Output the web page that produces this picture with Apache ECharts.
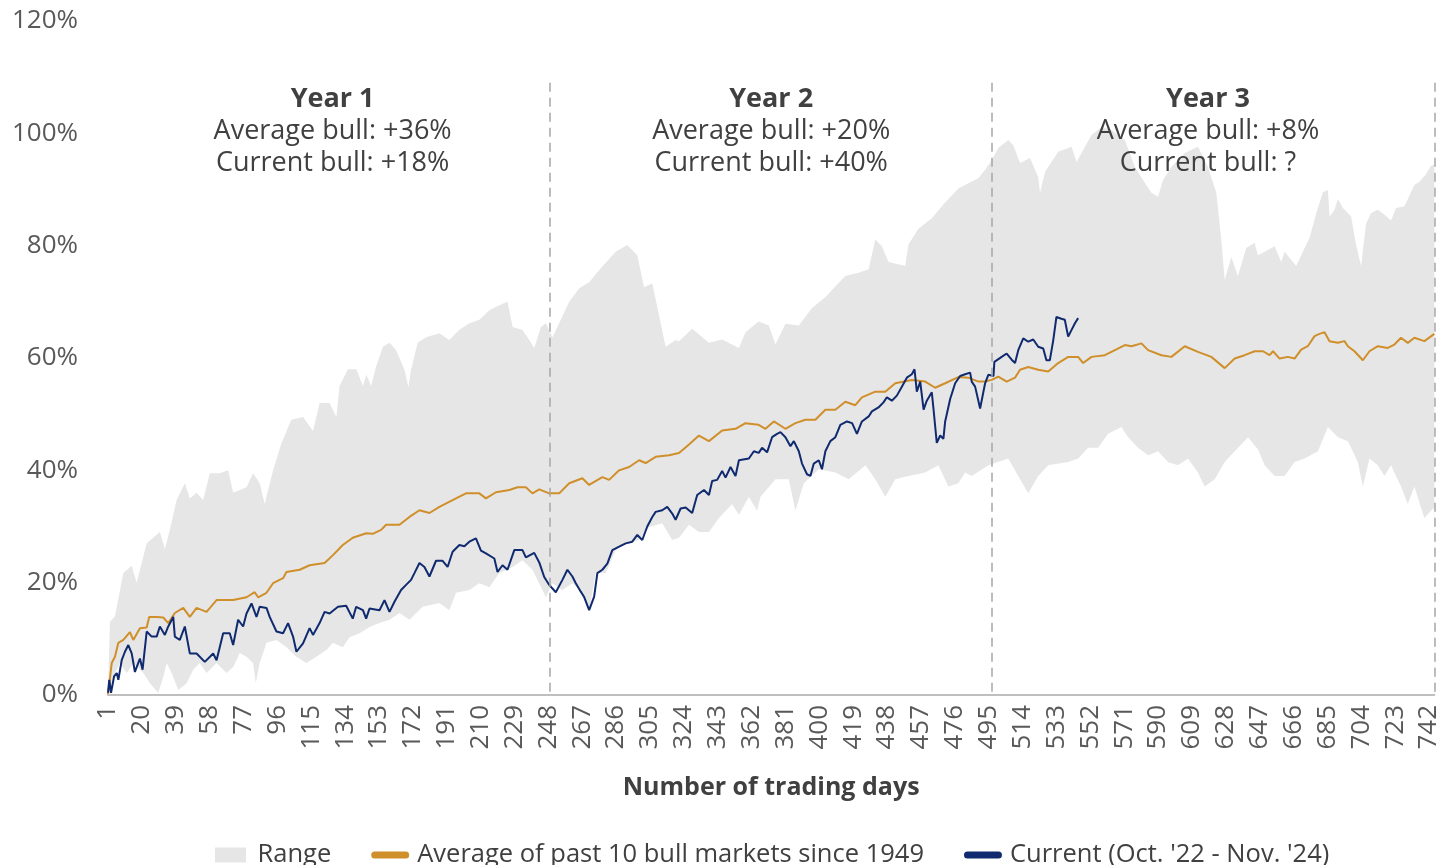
<!DOCTYPE html>
<html>
<head>
<meta charset="utf-8" />
<title>Bull market range</title>
<script src="https://cdn.jsdelivr.net/npm/echarts@6/dist/echarts.min.js"></script>
<style>
  html, body { margin: 0; padding: 0; background: #fff; }
  #chart { width: 1442px; height: 865px; }
</style>
</head>
<body>
<div id="chart"></div>
<script>
// [trading day, % gain]
var rangeUpper = [[1,0],[2.1,13],[4.9,14],[9.6,21.7],[14.3,23],[17.1,20],[22.7,27],[30.1,29],[32.9,26],[35.7,29.4],[39.5,34.7],[44.1,37.7],[46.9,35],[50.7,36],[54.4,34.7],[58.1,39.5],[63.7,39.5],[68.4,40],[71.2,36],[78.7,37],[82.4,39.5],[86.1,37.7],[88.9,34],[93.6,40],[98.3,44.8],[103.8,49],[110.4,49.5],[116,47],[119.7,52],[125.3,52],[129.1,49.5],[130.9,55],[135.6,58],[140.3,58],[144,55],[145.9,57],[148.6,55],[151.4,58.5],[155.2,62],[158.9,62.7],[162.6,61.4],[167.3,57.9],[169.5,54.8],[171,57.9],[174.7,62.7],[179.4,63.7],[186.9,64.4],[192.5,63.2],[198,65],[203.7,66.2],[209.3,66.8],[214.9,68.5],[220.5,69.4],[225.1,70],[228,65.5],[233.5,65],[236.3,63.7],[240.1,61.8],[243.8,65.5],[246.6,66.2],[250.3,63.7],[255,66.8],[259.7,70],[265.3,72.4],[270.9,73.5],[277.4,76],[285.8,78.9],[292.3,80.1],[297.9,78.3],[301.7,72.6],[306.3,73.3],[313.8,62],[319.4,63.2],[321.3,63],[328.7,65.2],[338.1,62.7],[345.5,63.3],[354.9,61.8],[358.6,64.6],[366,66.5],[371.7,65.8],[375.4,62.4],[381,66.1],[388.5,65.8],[395.9,68.9],[403.4,70.8],[407.1,72.1],[414.6,74.6],[422,75.2],[427.7,75.8],[431.4,81.1],[435.1,79.9],[438.8,77.1],[448.2,76.4],[450,80.2],[455.6,83],[463.1,84.9],[470.6,87.7],[478,90.2],[483.6,91.1],[489.2,92],[493,93.5],[496.7,95.2],[500.4,97.4],[506,98.8],[508.8,97.9],[512.6,94.7],[518.2,95.6],[522.8,92.2],[523.8,89.4],[526.6,93.1],[534,96.7],[541.5,97.6],[544.3,94.9],[549,97.6],[552.7,99.7],[558.3,101.1],[563.9,100.6],[571.4,98.8],[577,94],[582.6,91.2],[586.3,89.4],[590,88.7],[592.8,91.7],[597.5,94],[605,96.5],[612.4,97.6],[618,94],[622.7,89.4],[625.5,81],[627.4,73.9],[631.1,78],[634.8,74.6],[639.5,79.6],[644.2,80.5],[646,78.3],[649.8,78.9],[655.4,79.9],[659.1,77.1],[661,78.9],[667.5,76.4],[670.3,78.3],[675,81.4],[678.8,85.8],[682.5,89.5],[685.3,89.9],[686.2,85.2],[689,86.4],[690.9,88.3],[693.7,86.7],[698.3,85.2],[701.1,80.2],[703.9,76.4],[706.7,83.9],[709.5,85.8],[713.3,86.4],[717,85.5],[720.7,84.5],[723.5,86.7],[728.2,87],[731,88.9],[733.8,90.8],[736.6,91.4],[740.3,92.7],[743.1,94.2],[745,94.5]];

var rangeLower = [[1,0],[3.8,3.2],[7.7,5.7],[11.5,3.9],[15.2,5.7],[20.8,3.9],[24.5,2.1],[29.2,0.4],[32,3.2],[33.9,5.7],[36.7,3.9],[40.4,0.9],[45.1,2.1],[48.8,4.5],[52.5,5.7],[56.3,3.9],[61.9,5.7],[67.5,3.9],[71.2,5],[74.9,7.5],[78.7,6.8],[82.4,5.7],[83.9,2.1],[86.1,5.7],[89.9,9.3],[95.5,9.8],[101.1,8.5],[106.7,6.8],[112.3,5.7],[117.9,6.8],[123.5,8],[127.2,9.3],[132.7,8.5],[136.5,10.3],[142.1,11],[147.7,12.1],[153.3,12.8],[158.9,13.4],[164.5,14.6],[170.1,13.4],[177.5,15.7],[186.9,16.4],[192.5,15.1],[196.2,18.2],[203.7,18.7],[209.3,19.9],[214.9,19.2],[220.5,21.7],[228,22.8],[233.5,24],[239.1,22.3],[244.7,18.7],[246.6,17.4],[250.3,19.9],[255.9,18.7],[261.5,19.9],[267.1,18.2],[270.9,15.1],[274.6,21.7],[280.2,21.7],[285.8,25.8],[291.4,27],[298.9,27.6],[304.5,29.9],[311.9,30.6],[317.5,27.6],[321.3,28],[326.9,30.3],[332.5,29],[338.1,29],[343.7,31.5],[351.1,34],[354.9,32.1],[360.5,35.3],[365.1,32.8],[367,35.3],[375.4,38.4],[382.9,38.4],[386.6,32.8],[391.3,37.7],[399.7,40.2],[409,39.6],[416.5,38.4],[425.9,40.9],[431.4,38.4],[437,35.3],[442.6,38.4],[450,39],[459.4,39.6],[466.8,40.9],[472.4,37.1],[478,37.7],[481.8,39.6],[485.5,39],[494.8,40.9],[506,42.1],[511.6,39],[517.2,35.9],[522.8,39],[528.4,40.9],[539.6,41.5],[545.2,42.1],[550.8,44],[556.4,44],[562,46.5],[569.5,47.7],[573.2,45.9],[578.8,44],[584.4,42.7],[590,43.4],[595.6,41.5],[601.2,40.9],[606.8,42.1],[612.4,39.6],[616.2,37.1],[621.8,38.4],[627.4,41.5],[633,43.4],[640.5,45.9],[646.1,43.7],[649.8,40.9],[655.4,39],[661,39],[666.6,41.5],[672.2,42.1],[679.7,43.4],[685.3,47.7],[690.9,45.9],[696.5,45.2],[702.1,41.5],[704.9,37.1],[708.6,42.1],[713.3,40.9],[717,39],[720.7,40.9],[726.3,37.1],[730.1,34],[733.8,37.1],[737.5,33.4],[739.4,31.5],[743.1,32.8],[745,33.4]];

var averageBull = [[1,0],[3.1,5.7],[4.9,6.8],[6.8,9.3],[9.6,9.8],[13.3,11.2],[15.2,9.8],[18.9,11.9],[22.7,12],[24.1,13.9],[28.3,13.9],[32,13.8],[34.8,12.8],[38.5,14.6],[43.2,15.5],[46.9,13.9],[50.7,15.5],[56.3,14.8],[61.9,16.9],[71.2,16.9],[78.7,17.4],[83.3,18.3],[85.2,17.4],[89.9,18.2],[93.6,19.9],[99.2,20.8],[101.1,21.9],[108.5,22.3],[114.1,23.1],[122.5,23.5],[127.2,24.9],[132.7,26.7],[138.3,28],[145.9,28.8],[149.5,28.7],[154.2,29.4],[157,30.3],[164.5,30.3],[170.1,31.7],[175.7,32.9],[181.3,32.4],[186.9,33.5],[196.2,35],[201.8,35.9],[209.3,35.9],[213,35],[218.6,36.1],[226.1,36.5],[230.7,37],[235.4,37],[239.1,35.9],[242.9,36.6],[248.5,35.9],[254.1,35.9],[259.7,37.7],[267.1,38.6],[270.9,37.4],[278.3,38.8],[282.1,38.3],[287.7,40],[293.3,40.6],[298.9,41.8],[302.6,41.3],[308.2,42.4],[315.7,42.7],[321.3,43.1],[326.9,44.6],[332.5,46.2],[338.1,45.2],[345.5,47.1],[353,47.4],[358.6,48.4],[366,48.1],[369.8,47.4],[374.5,48.7],[381,47.4],[386.6,48.4],[392.2,49],[397.8,49],[403.4,50.8],[409,50.8],[414.6,52.2],[420.2,51.6],[423.9,53],[431.4,54],[437,54],[442.6,55.5],[451.9,56.1],[459.4,55.8],[465,54.7],[470.6,55.5],[478,56.6],[483.6,56.5],[489.2,55.8],[493,55.8],[496.7,56.1],[500.4,56.7],[505.1,55.8],[509.8,56.5],[512.6,57.9],[517.2,58.4],[522.8,57.9],[528.4,57.6],[534,59.1],[539.6,60.2],[545.2,60.2],[548,59.1],[552.7,60.2],[560.2,60.5],[565.8,61.4],[571.4,62.3],[575.1,62.1],[580.7,62.6],[584.4,61.4],[591.9,60.5],[597.5,60.2],[605,62.1],[612.4,61.1],[619.9,60.2],[627.4,58.2],[633,59.9],[638.6,60.5],[644.2,61.2],[648.9,61.2],[652.6,60.5],[654.5,61.2],[658.2,59.9],[662.8,60.2],[666.6,59.9],[670.3,61.5],[674,62.1],[677.8,63.9],[680.6,64.3],[683.4,64.6],[686.2,63],[690.9,62.7],[694.6,63],[696.5,62.1],[700.2,61.2],[704.9,59.6],[708.6,61.2],[713.3,62.1],[718.9,61.8],[722.6,62.4],[726.3,63.6],[730.1,62.7],[733.8,63.6],[739.4,63],[745,64.3]];

var currentBull = [[1,0.4],[1.7,2.7],[2.7,0.4],[4.4,3.3],[5.9,3.9],[6.8,2.7],[8.7,6.2],[10.5,7.7],[12.4,8.9],[14.3,7.4],[16.1,4.1],[18.9,6.5],[20.4,4.5],[22.7,11.3],[25.5,10.4],[28.3,10.4],[30.1,12.2],[32.9,10.7],[34.8,12.2],[37.6,13.9],[38.5,10.4],[41.3,9.8],[44.1,12.2],[46.9,7.4],[50.7,7.4],[55.3,5.9],[60,7.4],[61.9,6.2],[65.6,11],[69.3,11],[71.2,8.9],[74,13.4],[76.8,12.2],[78.7,14.5],[81.5,16.3],[84.3,13.9],[86.1,15.7],[89.9,15.5],[91.7,13.9],[95.5,11.3],[99.2,11],[102,12.8],[104.8,10.4],[106.7,7.7],[110.4,9.2],[114.1,11.9],[116,10.7],[119.7,12.8],[122.5,14.8],[125.3,14.5],[130,15.7],[134.6,15.9],[138.3,13.6],[140.2,15.7],[144,15.1],[145.8,13.6],[147.7,15.4],[153.3,15.1],[156.1,16.9],[158.9,14.8],[161.7,16.6],[165.4,18.7],[168.2,19.6],[171,20.5],[172.9,21.7],[175.7,23.5],[178.5,22.8],[181.3,21.1],[185,23.9],[188.7,23.9],[191.5,22.8],[194.3,25.5],[198.1,26.7],[200.9,26.5],[203.7,27.3],[207.4,27.9],[210.2,25.7],[213,25.2],[217.7,24.3],[219.5,21.9],[222.3,23.1],[225.1,22.3],[228.9,25.8],[233.5,25.8],[235.4,24.5],[240.1,25.3],[242.9,23.6],[245.7,21],[248.5,19.6],[252.2,18.3],[255.9,20.5],[258.7,22.3],[261.5,21.1],[263.4,19.9],[266.2,18.4],[268,17.5],[270.9,15.1],[273.7,17.5],[275.5,21.7],[278.3,22.3],[281.1,23.4],[283.9,25.8],[287.7,26.4],[291.4,27],[295.1,27.3],[297.9,28.5],[300.7,27.6],[303.5,30],[306.3,31.7],[308.2,32.6],[311.9,32.9],[314.7,33.5],[317.5,32.3],[319.4,31.2],[322.2,33.2],[325,33.4],[328.7,32.4],[331.5,35.6],[335.3,36.5],[338.1,35.6],[339.9,38.1],[342.7,38.3],[345.5,39.9],[347.4,38.7],[350.2,40.6],[353,39],[354.9,41.8],[360.5,42.1],[363.3,43.4],[366,43.1],[367.9,44],[370.7,43.2],[373.5,45.9],[376.3,46.5],[378.2,46.8],[381,45.9],[383.8,44.3],[385.7,45.2],[388.5,43.4],[390.3,41.2],[393.1,39.3],[395,39],[396.9,41.2],[399.7,41.8],[401.5,40.2],[403.4,43.4],[406.2,45.2],[409,45.9],[411.8,48.1],[415.5,48.7],[418.4,48.4],[421.1,46.5],[423.9,48.7],[427.7,49.6],[429.5,50.5],[433.2,51.2],[436,52.1],[437.9,53],[440.7,52.4],[443.5,53.3],[446.3,54.9],[449.1,56.5],[451.9,57.1],[453.4,58],[454.7,54],[456.6,55.8],[458.5,50.8],[460.3,52.4],[463.1,53.9],[464,51.1],[465.9,44.9],[467.8,46.2],[469.6,45.6],[470.6,48.7],[473.4,52.7],[476.2,55.5],[479,56.8],[481.8,57.1],[484.6,57.4],[485.5,55.8],[487.4,54.9],[490.2,51],[493,55.5],[494.8,57],[497.7,56.8],[498.2,59.3],[502.3,60.2],[505.1,60.8],[507.9,59.7],[509.8,59.1],[511.6,61.4],[514.4,63.5],[517.2,62.9],[520,63.3],[522.8,62],[525.6,61.7],[527.4,59.6],[529.3,59.6],[531.2,63.1],[533,67.3],[535.8,67],[537.7,66.8],[539.6,63.8],[541.5,65],[543.4,66.2],[545.2,67.1]];

var yearEdges = [249, 497, 745];
var yearCenters = [127, 373, 618];
var yearTitles = ['Year 1', 'Year 2', 'Year 3'];
var yearAverage = ['Average bull: +36%', 'Average bull: +20%', 'Average bull: +8%'];
var yearCurrent = ['Current bull: +18%', 'Current bull: +40%', 'Current bull: ?'];

var FONT = '"Open Sans", "Noto Sans", sans-serif';
var GOLD = '#cf8f2a';
var NAVY = '#0f2a6f';
var GREY = '#e7e6e6';

// x axis runs on (day - 1) so ticks at 0,19,38.. read 1,20,39..
function shift(arr) {
  return arr.map(function (p) { return [p[0] - 1, p[1]]; });
}

// legend marks: a 31x15 block and a 38x7 pill, kept to aspect in a 38x15 box
var block = 'path://M0,0 L31,0 L31,15 L0,15 Z';
var pill = 'path://M3.5,0 L34.5,0 A3.5,3.5 0 0 1 34.5,7 L3.5,7 A3.5,3.5 0 0 1 3.5,0 Z';

var chart = echarts.init(document.getElementById('chart'), null, { renderer: 'canvas' });
var option = {
  animation: false,
  textStyle: { fontFamily: FONT },
  grid: { left: 108, right: 5, top: 21, bottom: 170 },
  legend: {
    top: 837,
    left: 210,
    itemWidth: 38,
    itemHeight: 15,
    itemGap: 40,
    textStyle: { fontSize: 25.5, color: '#404040', fontFamily: FONT, padding: [0, 0, 0, 3] },
    data: [
      { name: 'Range', icon: block, itemStyle: { color: GREY } },
      { name: 'Average of past 10 bull markets since 1949', icon: pill },
      { name: "Current (Oct. '22 - Nov. '24)", icon: pill }
    ]
  },
  xAxis: {
    type: 'value',
    min: 0,
    max: 744,
    interval: 19,
    z: 10,
    name: 'Number of trading days',
    nameLocation: 'middle',
    nameGap: 80,
    nameTextStyle: { fontSize: 25, fontWeight: 'bold', color: '#404040', fontFamily: FONT },
    axisLine: { lineStyle: { color: '#bfbfbf', width: 2 } },
    axisTick: { show: false },
    splitLine: { show: false },
    axisLabel: {
      rotate: 90,
      fontSize: 26,
      color: '#595959',
      margin: 10,
      showMaxLabel: false,
      fontFamily: FONT,
      formatter: function (v) { return String(v + 1); }
    }
  },
  yAxis: {
    type: 'value',
    min: 0,
    max: 120,
    interval: 20,
    axisLine: { show: false },
    axisTick: { show: false },
    splitLine: { show: false },
    axisLabel: { formatter: '{value}%', fontSize: 26, color: '#595959', margin: 30, fontFamily: FONT }
  },
  series: [
    {
      name: 'Range',
      type: 'line',
      data: shift(rangeUpper),
      symbol: 'none',
      silent: true,
      itemStyle: { color: GREY },
      lineStyle: { width: 0 },
      areaStyle: { color: GREY, opacity: 1 }
    },
    {
      name: 'lower',
      type: 'line',
      data: shift(rangeLower),
      symbol: 'none',
      silent: true,
      itemStyle: { color: '#ffffff' },
      lineStyle: { width: 0 },
      areaStyle: { color: '#ffffff', opacity: 1 }
    },
    {
      name: 'Average of past 10 bull markets since 1949',
      type: 'line',
      data: shift(averageBull),
      symbol: 'none',
      silent: true,
      itemStyle: { color: GOLD },
      lineStyle: { color: GOLD, width: 2 }
    },
    {
      name: "Current (Oct. '22 - Nov. '24)",
      type: 'line',
      data: shift(currentBull),
      symbol: 'none',
      silent: true,
      itemStyle: { color: NAVY },
      lineStyle: { color: NAVY, width: 2 },
      markLine: {
        silent: true,
        symbol: ['none', 'none'],
        label: { show: false },
        lineStyle: { color: '#a6a6a6', width: 1.5, type: [9, 6] },
        data: yearEdges.map(function (d) {
          return [{ coord: [d - 1, 109] }, { coord: [d - 1, 0] }];
        })
      }
    }
  ]
};
chart.setOption(option);

// year notes above the plot
var notes = [];
yearCenters.forEach(function (d, i) {
  var px = chart.convertToPixel({ xAxisIndex: 0 }, d - 1);
  var lines = [
    { text: yearTitles[i], y: 99, weight: 'bold' },
    { text: yearAverage[i], y: 131, weight: 'normal' },
    { text: yearCurrent[i], y: 163, weight: 'normal' }
  ];
  lines.forEach(function (l) {
    notes.push({
      type: 'text',
      x: px,
      y: l.y,
      silent: true,
      z: 100,
      style: {
        text: l.text,
        align: 'center',
        verticalAlign: 'middle',
        fontSize: 27,
        fontWeight: l.weight,
        fontFamily: FONT,
        fill: '#404040'
      }
    });
  });
});
chart.setOption({ graphic: notes });
</script>
</body>
</html>
